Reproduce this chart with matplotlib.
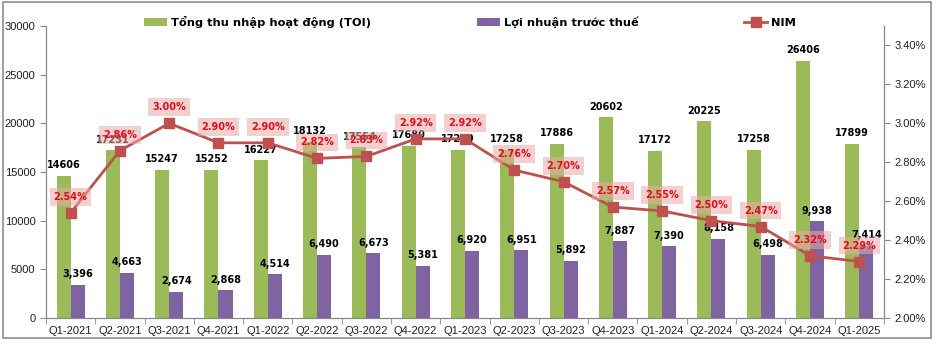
import numpy as np
import matplotlib.pyplot as plt
from matplotlib.patches import Rectangle
from matplotlib.ticker import FuncFormatter, FixedLocator

quarters = ["Q1-2021", "Q2-2021", "Q3-2021", "Q4-2021", "Q1-2022", "Q2-2022",
            "Q3-2022", "Q4-2022", "Q1-2023", "Q2-2023", "Q3-2023", "Q4-2023",
            "Q1-2024", "Q2-2024", "Q3-2024", "Q4-2024", "Q1-2025"]
toi = [14606, 17231, 15247, 15252, 16227, 18132, 17554, 17680, 17279, 17258,
       17886, 20602, 17172, 20225, 17258, 26406, 17899]
pbt = [3396, 4663, 2674, 2868, 4514, 6490, 6673, 5381, 6920, 6951, 5892,
       7887, 7390, 8158, 6498, 9938, 7414]
nim = [2.54, 2.86, 3.00, 2.90, 2.90, 2.82, 2.83, 2.92, 2.92, 2.76, 2.70,
       2.57, 2.55, 2.50, 2.47, 2.32, 2.29]

GREEN = "#9BBB59"
PURPLE = "#8064A2"
RED = "#C0504D"
LBL = "DejaVu Sans"
TICK = "Liberation Sans"

fig = plt.figure(figsize=(9.38, 3.5), dpi=100)
ax = fig.add_axes([0.049, 0.0914, 0.8934, 0.8343])
ax2 = ax.twinx()

x = np.arange(len(quarters))
w = 0.285
b1 = ax.bar(x - w / 2, toi, w, color=GREEN, zorder=2)
b2 = ax.bar(x + w / 2, pbt, w, color=PURPLE, zorder=2)

for xi, v in zip(x, toi):
    ax.annotate(f"{v}", (xi - w / 2, v), xytext=(0, 4), textcoords="offset points",
                ha="center", va="bottom", fontsize=7, fontweight="bold",
                family=LBL, color="black", zorder=3)
for xi, v in zip(x, pbt):
    ax.annotate(f"{v:,}", (xi + w / 2, v), xytext=(0, 4), textcoords="offset points",
                ha="center", va="bottom", fontsize=7, fontweight="bold",
                family=LBL, color="black", zorder=3)

ln, = ax2.plot(x, nim, color=RED, lw=2, marker="s", markersize=6.5,
               markerfacecolor=RED, markeredgecolor=RED, zorder=4)
for xi, v in zip(x, nim):
    ax2.annotate(f"{v:.2f}%", (xi, v), xytext=(0, 11.5), textcoords="offset points",
                 ha="center", va="center", fontsize=7, fontweight="bold",
                 family=LBL, color="#E0101A", zorder=5,
                 bbox=dict(boxstyle="square,pad=0.4", fc="#EBA8A8", ec="none", alpha=0.55))

ax.set_xlim(-0.5, len(quarters) - 0.5)
ax.set_ylim(0, 30000)
ax.set_yticks(range(0, 30001, 5000))
ax2.set_ylim(2.0, 3.5)
ax2.set_yticks(np.arange(2.0, 3.41, 0.2))
ax2.yaxis.set_major_formatter(FuncFormatter(lambda v, p: f"{v:.2f}%"))

ax.set_xticks(x)
ax.set_xticklabels(quarters)
ax.xaxis.set_minor_locator(FixedLocator(np.arange(-0.5, len(quarters), 1)))
ax.tick_params(axis="x", which="major", length=0, pad=6)
ax.tick_params(axis="x", which="minor", length=4, color="#888888")
ax.tick_params(axis="y", length=4, color="#888888")
ax2.tick_params(axis="y", length=4, color="#888888")
for a in (ax, ax2):
    for lab in a.get_xticklabels() + a.get_yticklabels():
        lab.set_fontsize(8)
        lab.set_family(TICK)
        lab.set_color("#202020")
    a.spines["top"].set_visible(False)
    for s in ("left", "right", "bottom"):
        a.spines[s].set_color("#888888")
ax2.patch.set_visible(False)

fig.legend([b1, b2, ln], ["Tổng thu nhập hoạt động (TOI)", "Lợi nhuận trước thuế", "NIM"],
           ncol=3, loc="center", bbox_to_anchor=(0.501, 0.937), frameon=False,
           prop=dict(family=LBL, weight="bold", size=8.2),
           columnspacing=9.3, handlelength=2.0, handletextpad=0.35)

fig.patches.append(Rectangle((0.003, 0.035), 0.99, 0.958, transform=fig.transFigure,
                             fill=False, ec="#8C8C8C", lw=1.2))

fig.savefig("out.png", dpi=100)
